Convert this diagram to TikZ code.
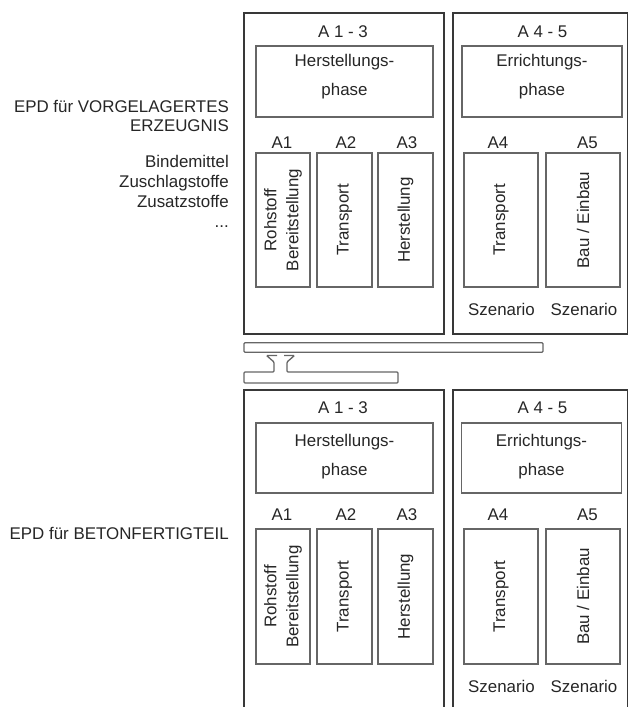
\documentclass[tikz,border=0pt]{standalone}
\usepackage{fontspec}
\setmainfont{Liberation Sans}
\begin{document}
\begin{tikzpicture}[x=1pt,y=-1pt,
  outerbox/.style={draw=black!78, line width=1.2pt, inner sep=0pt, outer sep=0pt},
  innerbox/.style={draw=black!60, line width=1.4pt, inner sep=0pt, outer sep=0pt},
  txt/.style={text=black!85, inner sep=0pt, font=\fontsize{16.9}{20}\selectfont},
  twoline/.style={txt, align=center, font=\fontsize{16.9}{29}\selectfont},
  rottxt/.style={txt, rotate=90, align=center, font=\fontsize{16.9}{22}\selectfont},
  lefttxt/.style={txt, align=right, anchor=east},
  clipline/.style={draw=black!60, line width=1.3pt, rounded corners=1pt}]
\useasboundingbox (0,0) rectangle (628,707);

% ---------- left texts ----------
\node[lefttxt, font=\fontsize{16.9}{19}\selectfont] (epd1) at (229,115.5) {EPD für VORGELAGERTES\\ERZEUGNIS};
\node[lefttxt, font=\fontsize{16.9}{20}\selectfont] (stoffe) at (229,191) {Bindemittel\\Zuschlagstoffe\\Zusatzstoffe\\...};
\node[lefttxt] (epd2) at (229,533) {EPD für BETONFERTIGTEIL};

% ---------- upper block ----------
\node[outerbox, minimum width=200pt, minimum height=321pt] (oL1) at (344,173.5) {};
\node[outerbox, minimum width=174.5pt, minimum height=321pt] (oR1) at (540.25,173.5) {};
\node[txt] (t13a) at (343,32) {A 1 - 3};
\node[txt] (t45a) at (542.5,32) {A 4 - 5};
\node[innerbox, minimum width=177pt, minimum height=71pt] (pL1) at (344.5,81.5) {};
\node[innerbox, minimum width=160pt, minimum height=71pt] (pR1) at (542,81.5) {};
\node[twoline] (hp1) at (344.5,77) {Herstellungs-\\phase};
\node[twoline] (ep1) at (542,77) {Errichtungs-\\phase};
\node[txt] (la1a) at (282,143) {A1};
\node[txt] (la2a) at (346,143) {A2};
\node[txt] (la3a) at (407,143) {A3};
\node[txt] (la4a) at (498,143) {A4};
\node[txt] (la5a) at (587.5,143) {A5};
\node[innerbox, minimum width=54pt, minimum height=134pt] (b1a) at (283,220) {};
\node[innerbox, minimum width=55pt, minimum height=134pt] (b2a) at (344.5,220) {};
\node[innerbox, minimum width=55pt, minimum height=134pt] (b3a) at (405.5,220) {};
\node[innerbox, minimum width=74pt, minimum height=134pt] (b4a) at (501,220) {};
\node[innerbox, minimum width=74pt, minimum height=134pt] (b5a) at (583,220) {};
\node[rottxt] (r1a) at (b1a.center) {Rohstoff\\Bereitstellung};
\node[rottxt] (r2a) at (b2a.center) {Transport};
\node[rottxt] (r3a) at (b3a.center) {Herstellung};
\node[rottxt] (r4a) at (b4a.center) {Transport};
\node[rottxt] (r5a) at (b5a.center) {Bau / Einbau};
\node[txt] (s4a) at (501.5,309.5) {Szenario};
\node[txt] (s5a) at (584,309.5) {Szenario};

% ---------- connector (clip) ----------
\node[innerbox, draw=black!60, line width=1.3pt, minimum width=299pt, minimum height=9.5pt, rounded corners=1pt] (bar) at (393.5,347.5) {};
\draw[clipline] (277,355.5) -- (266.5,355.5) -- (274,362) -- (274,372) -- (244,372) -- (244,383)
   -- (398,383) -- (398,372) -- (287,372) -- (287,362) -- (294.5,355.5) -- (284,355.5);

% ---------- lower block ----------
\node[outerbox, minimum width=200pt, minimum height=330pt] (oL2) at (344,555) {};
\node[outerbox, minimum width=174.5pt, minimum height=330pt] (oR2) at (540.25,555) {};
\node[txt] (t13b) at (343,408) {A 1 - 3};
\node[txt] (t45b) at (542.5,408) {A 4 - 5};
\node[innerbox, minimum width=177pt, minimum height=70pt] (pL2) at (344.5,458) {};
\node[innerbox, minimum width=160pt, minimum height=70pt] (pR2) at (541.5,458) {};
\node[twoline] (hp2) at (344.5,457) {Herstellungs-\\phase};
\node[twoline] (ep2) at (541.5,457) {Errichtungs-\\phase};
\node[txt] (la1b) at (282,515) {A1};
\node[txt] (la2b) at (346,515) {A2};
\node[txt] (la3b) at (407,515) {A3};
\node[txt] (la4b) at (498,515) {A4};
\node[txt] (la5b) at (587.5,515) {A5};
\node[innerbox, minimum width=54pt, minimum height=135pt] (b1b) at (283,596.5) {};
\node[innerbox, minimum width=55pt, minimum height=135pt] (b2b) at (344.5,596.5) {};
\node[innerbox, minimum width=55pt, minimum height=135pt] (b3b) at (405.5,596.5) {};
\node[innerbox, minimum width=74pt, minimum height=135pt] (b4b) at (501,596.5) {};
\node[innerbox, minimum width=74pt, minimum height=135pt] (b5b) at (583,596.5) {};
\node[rottxt] (r1b) at (b1b.center) {Rohstoff\\Bereitstellung};
\node[rottxt] (r2b) at (b2b.center) {Transport};
\node[rottxt] (r3b) at (b3b.center) {Herstellung};
\node[rottxt] (r4b) at (b4b.center) {Transport};
\node[rottxt] (r5b) at (b5b.center) {Bau / Einbau};
\node[txt] (s4b) at (501.5,686) {Szenario};
\node[txt] (s5b) at (584,686) {Szenario};
\end{tikzpicture}
\end{document}
